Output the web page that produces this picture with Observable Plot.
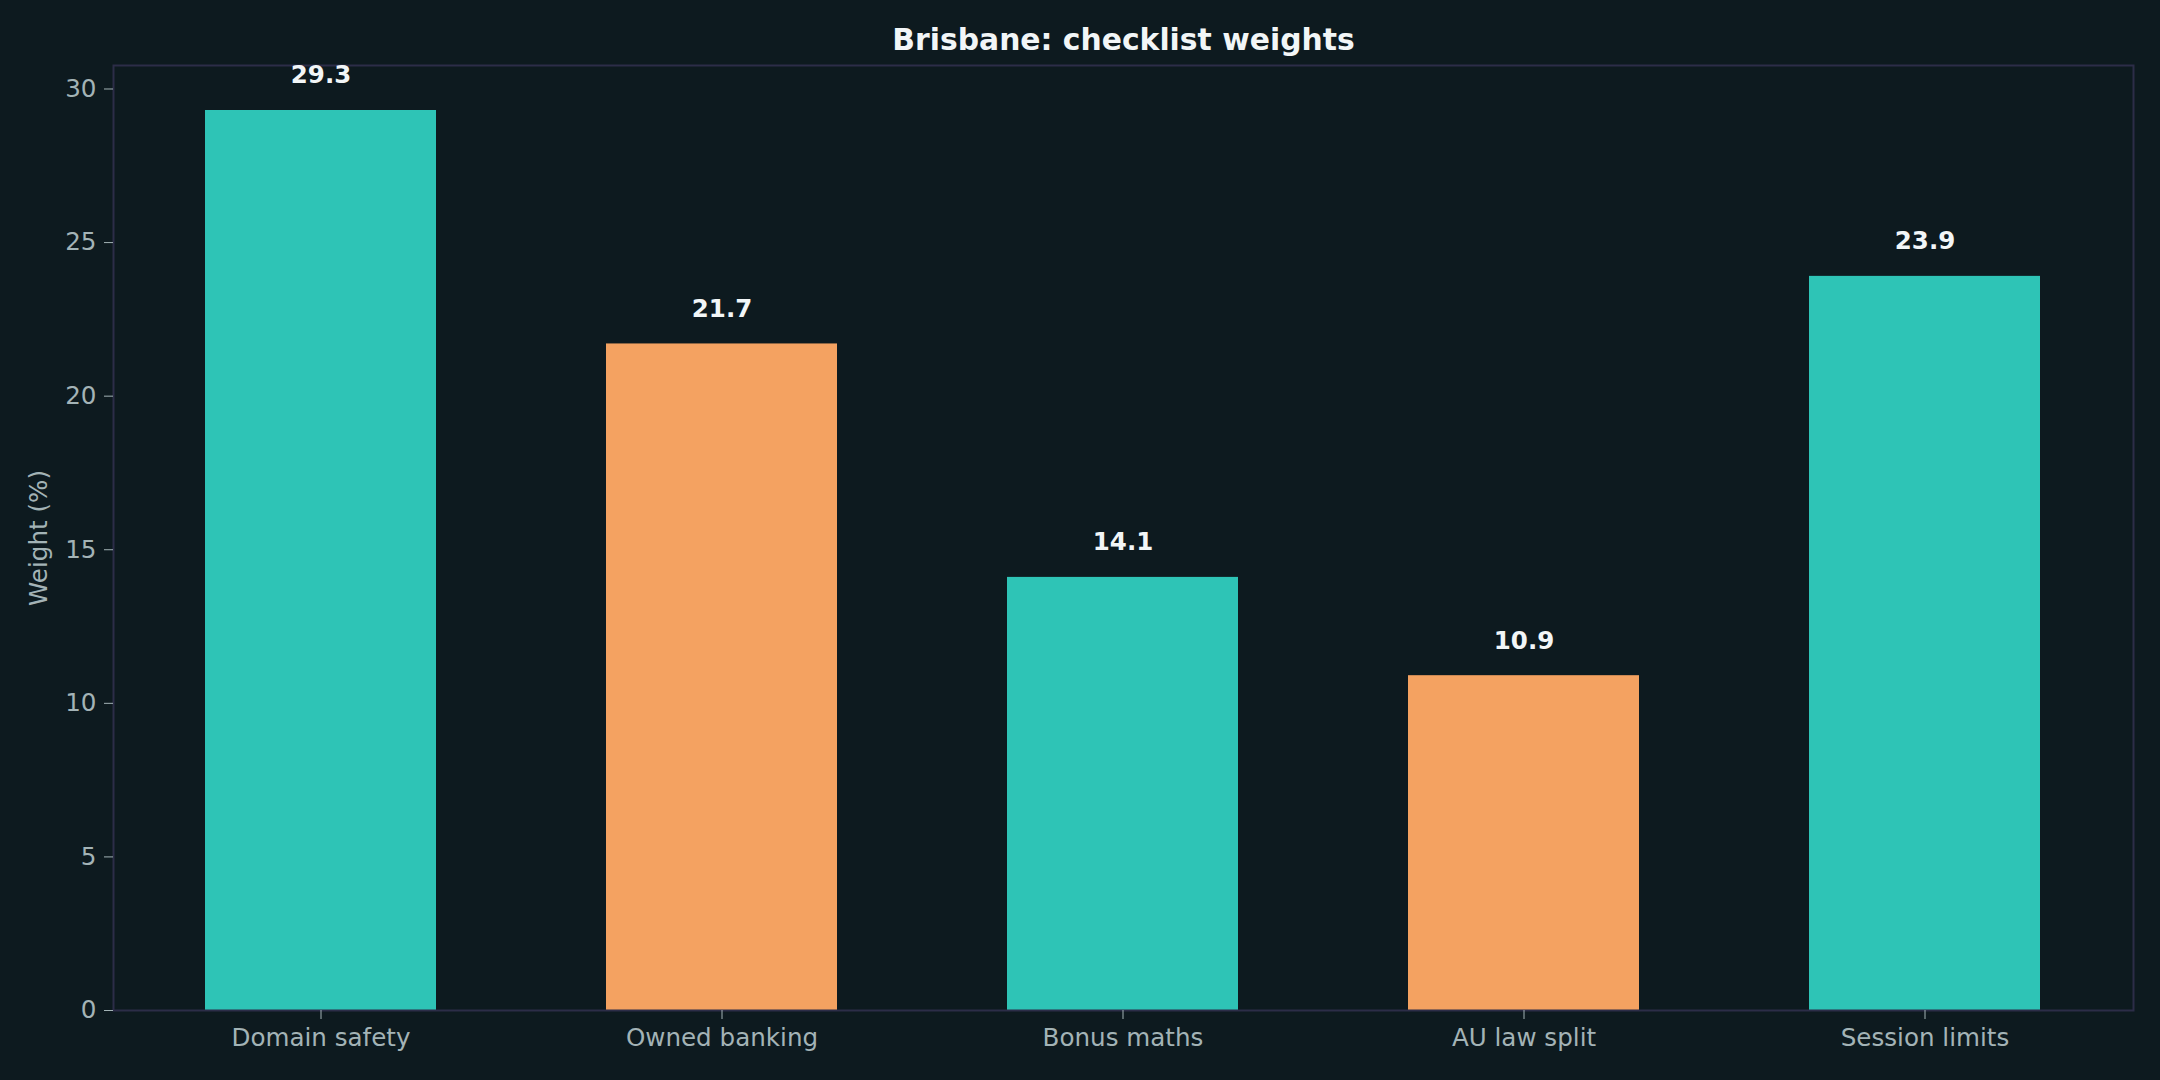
<!DOCTYPE html>
<html>
<head>
<meta charset="utf-8">
<script src="https://cdn.jsdelivr.net/npm/d3@7"></script>
<script src="https://cdn.jsdelivr.net/npm/@observablehq/plot@0.6"></script>
<style>
  html, body { margin: 0; padding: 0; background: #0d1a1f; }
  svg { display: block; }
</style>
</head>
<body>
<div id="chart"></div>
<script>
const categories = ["Domain safety", "Owned banking", "Bonus maths", "AU law split", "Session limits"];
const weights = [29.3, 21.7, 14.1, 10.9, 23.9];
const groups = ["A", "B", "A", "B", "A"];
const yTicks = [0, 5, 10, 15, 20, 25, 30];
const titleText = "Brisbane: checklist weights";
const yLabel = "Weight (%)";

const data = categories.map((c, i) => ({category: c, weight: weights[i], group: groups[i]}));

const FONT = "DejaVu Sans, Liberation Sans, sans-serif";
const TICK_COLOR = "#a3b3b6";
const FRAME_COLOR = "#2c2d48";

const chart = Plot.plot({
  width: 2160,
  height: 1080,
  marginLeft: 113,
  marginRight: 27,
  marginTop: 65,
  marginBottom: 70,
  style: {background: "#0d1a1f", fontFamily: FONT, fontSize: "24.6px", color: TICK_COLOR},
  x: {domain: categories, paddingInner: 0.423, paddingOuter: 0.225, label: null},
  y: {domain: [0, 30.765], label: null},
  color: {domain: ["A", "B"], range: ["#2ec4b6", "#f4a261"]},
  marks: [
    Plot.barY(data, {x: "category", y: "weight", fill: "group"}),
    Plot.frame({stroke: FRAME_COLOR, strokeWidth: 2}),
    Plot.axisY({ticks: yTicks, tickSize: 9, tickPadding: 8, stroke: TICK_COLOR, fill: TICK_COLOR, fontSize: 24.6, label: null}),
    Plot.axisX({tickSize: 9, tickPadding: 9, stroke: TICK_COLOR, fill: TICK_COLOR, fontSize: 24.6, label: null}),
    Plot.text(data, {x: "category", y: "weight", text: d => d.weight.toFixed(1), dy: -35, fill: "#f2f6f7", fontWeight: "bold", fontSize: 24.5, lineAnchor: "middle"}),
    Plot.text([titleText], {frameAnchor: "top", dy: -25, text: d => d, fill: "#f2f6f7", fontWeight: "bold", fontSize: 29.8, lineAnchor: "middle"}),
    Plot.text([yLabel], {frameAnchor: "left", dx: -74, rotate: -90, textAnchor: "middle", text: d => d, fill: TICK_COLOR, fontSize: 24.6, lineAnchor: "middle"})
  ]
});
document.getElementById("chart").appendChild(chart);
</script>
</body>
</html>
